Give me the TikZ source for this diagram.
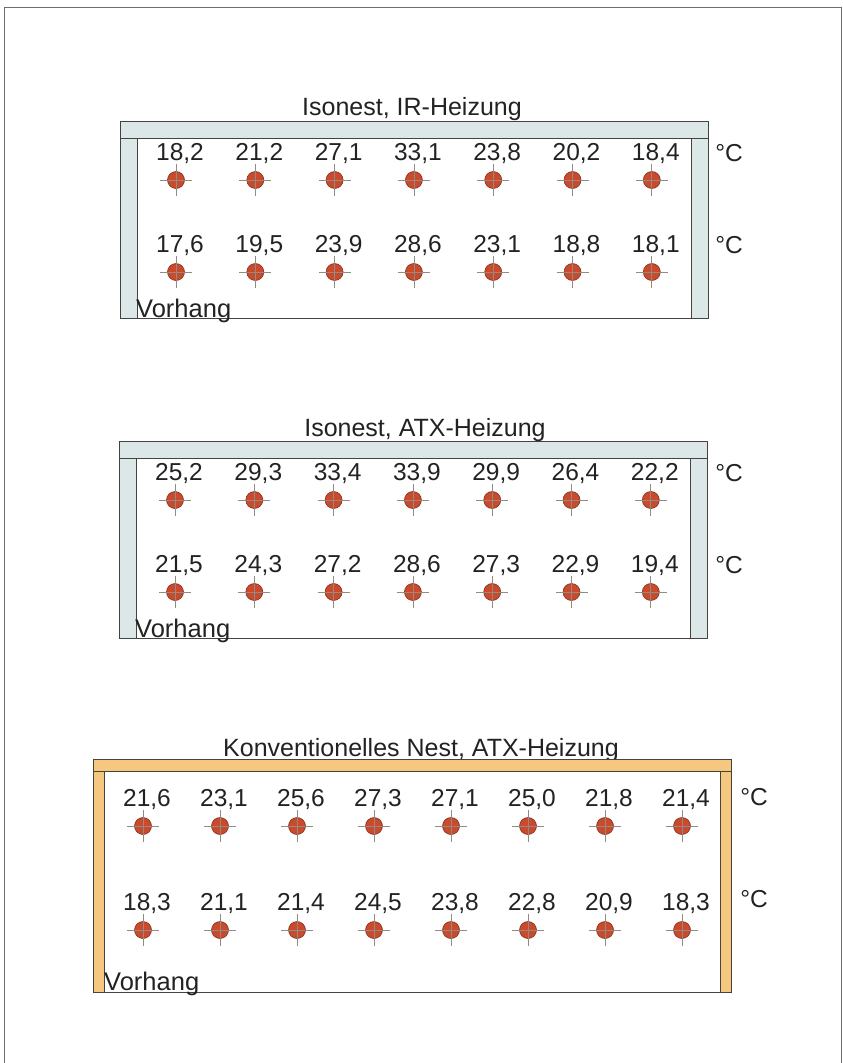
\documentclass[tikz,border=0pt]{standalone}
\usepackage{fontspec}
\setmainfont{Liberation Sans}
\usepackage{tikz}
\usetikzlibrary{positioning}
\definecolor{ciso}{HTML}{DCE8E8}
\definecolor{cconv}{HTML}{F6C77E}
\definecolor{cedge}{HTML}{44443E}
\definecolor{csensor}{HTML}{C94A2C}
\definecolor{chair}{HTML}{918B82}
\definecolor{ctext}{HTML}{222222}
\definecolor{cframe}{HTML}{6E6E6E}
\tikzset{
  frame/.style={draw=cframe, line width=0.8pt},
  wall/.style={draw=cedge, line width=1pt},
  isowall/.style={wall, fill=ciso},
  convwall/.style={wall, fill=cconv},
  sensor/.style={circle, draw=csensor!65!black, fill=csensor, inner sep=0pt, minimum size=17pt, line width=0.6pt},
  hair/.style={draw=chair, line width=0.7pt},
  val/.style={font=\fontsize{24.5}{28}\selectfont, text=ctext, anchor=base, inner sep=0pt},
  ttl/.style={val, font=\fontsize{25}{29}\selectfont},
  degc/.style={val},
  curtain/.style={val, font=\fontsize{25.5}{29}\selectfont, anchor=base west},
}
% one row of sensors: name, x of first, spacing, y, values
\newcommand{\sensorrow}[5]{%
  \foreach \v [count=\i] in {#5} {
    \node[sensor] (#1\i) at ({#2+(\i-1)*#3},#4) {};
    \draw[hair] ([xshift=-16pt]#1\i.center) -- ([xshift=16pt]#1\i.center);
    \draw[hair] ([yshift=-16pt]#1\i.center) -- ([yshift=16pt]#1\i.center);
    \node[val] (#1v\i) at ([xshift=4pt,yshift=20pt]#1\i.center) {\v};
  }%
}

\begin{document}
\begin{tikzpicture}[x=1pt,y=-1pt]
\useasboundingbox (0,0) rectangle (843,1063);
\draw[frame] (4,1063) -- (4,7) -- (841,7) -- (841,1063);

% Isonest, IR-Heizung
\node[ttl] (t1) at (412,115) {Isonest, IR-Heizung};
\draw[wall] (120,121) rectangle (708,318);
\draw[isowall] (120,121) rectangle (708,138);
\draw[isowall] (120,138) rectangle (137,318);
\draw[isowall] (691,138) rectangle (708,318);
\sensorrow{a}{176}{79.3}{180}{{18,2},{21,2},{27,1},{33,1},{23,8},{20,2},{18,4}}
\sensorrow{b}{176}{79.3}{272}{{17,6},{19,5},{23,9},{28,6},{23,1},{18,8},{18,1}}
\node[degc] (ua) at (729,161) {°C};
\node[degc] (ub) at (729,253) {°C};
\node[curtain] (v1) at (136,317) {Vorhang};

% Isonest, ATX-Heizung
\node[ttl] (t2) at (425,436) {Isonest, ATX-Heizung};
\draw[wall] (119,441) rectangle (707,638);
\draw[isowall] (119,441) rectangle (707,458);
\draw[isowall] (119,458) rectangle (136,638);
\draw[isowall] (690,458) rectangle (707,638);
\sensorrow{c}{175}{79.3}{500}{{25,2},{29,3},{33,4},{33,9},{29,9},{26,4},{22,2}}
\sensorrow{d}{175}{79.3}{592}{{21,5},{24,3},{27,2},{28,6},{27,3},{22,9},{19,4}}
\node[degc] (uc) at (729,481) {°C};
\node[degc] (ud) at (729,573) {°C};
\node[curtain] (v2) at (135,637) {Vorhang};

% Konventionelles Nest, ATX-Heizung
\node[ttl] (t3) at (421,756) {Konventionelles Nest, ATX-Heizung};
\draw[wall] (93,759) rectangle (731,992);
\draw[convwall] (93,759) rectangle (731,771);
\draw[convwall] (93,771) rectangle (104,992);
\draw[convwall] (720,771) rectangle (731,992);
\sensorrow{e}{143}{77}{826}{{21,6},{23,1},{25,6},{27,3},{27,1},{25,0},{21,8},{21,4}}
\sensorrow{f}{143}{77}{930}{{18,3},{21,1},{21,4},{24,5},{23,8},{22,8},{20,9},{18,3}}
\node[degc] (ue) at (754,805) {°C};
\node[degc] (uf) at (754,907) {°C};
\node[curtain] (v3) at (104,990) {Vorhang};
\end{tikzpicture}
\end{document}
